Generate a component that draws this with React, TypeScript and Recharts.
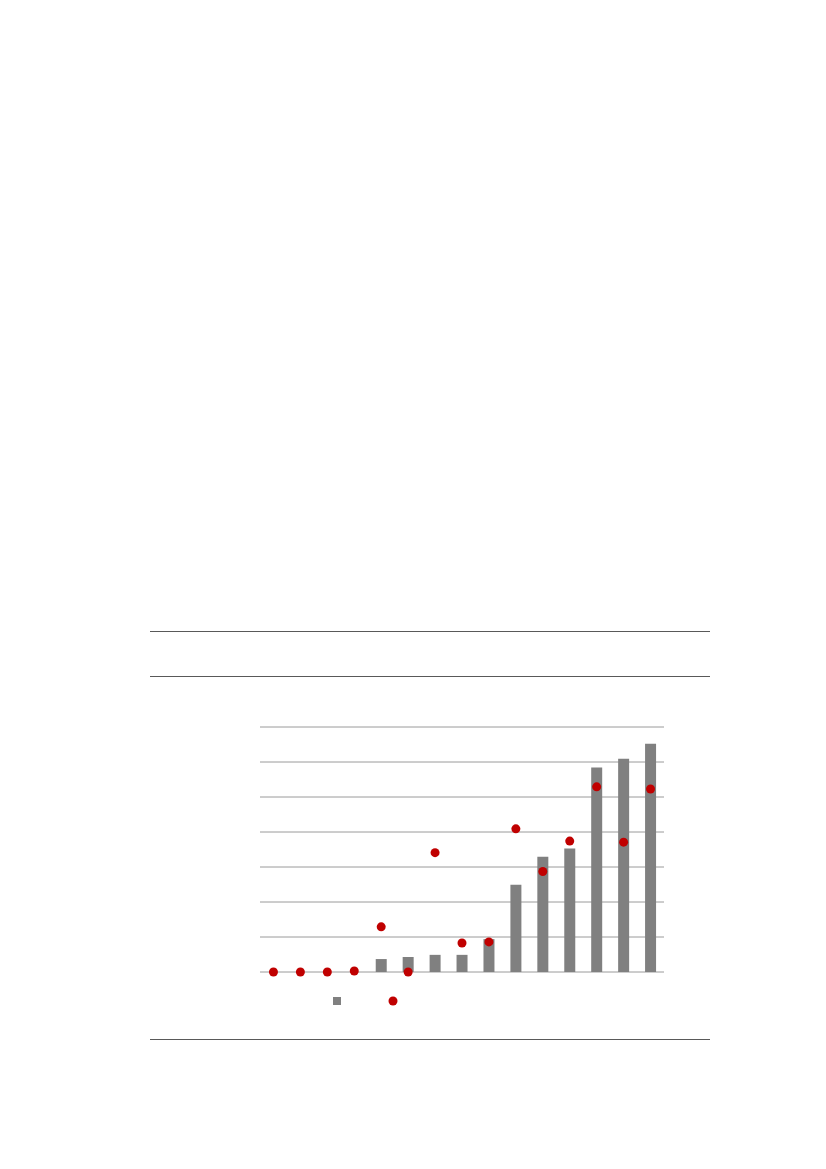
import React from "react";
import {
    ComposedChart,
    Bar,
    Line,
    XAxis,
    YAxis,
    CartesianGrid,
    Legend,
} from "recharts";

// 15 categories, no labels visible in the reference
const categories = ["1", "2", "3", "4", "5", "6", "7", "8", "9", "10", "11", "12", "13", "14", "15"];
const barValues = [0, 0, 0, 0, 0.37, 0.43, 0.49, 0.49, 0.94, 2.49, 3.29, 3.53, 5.84, 6.09, 6.52];
const dotValues = [0, 0, 0, 0.03, 1.29, 0, 3.41, 0.83, 0.86, 4.09, 2.87, 3.74, 5.29, 3.71, 5.23];
const yTicks = [0, 1, 2, 3, 4, 5, 6, 7];

const data = categories.map((c, i) => ({
    name: c,
    bar: barValues[i],
    dot: dotValues[i],
}));

const BAR_COLOR = "#808080";
const DOT_COLOR = "#C00000";

function LegendContent() {
    return (
        <svg width={70} height={10}>
            <rect x={0} y={1} width={8} height={8} fill={BAR_COLOR} />
            <circle cx={60} cy={5} r={4.5} fill={DOT_COLOR} />
        </svg>
    );
}

const rule = (top: number): React.CSSProperties => ({
    position: "absolute",
    left: 150,
    top,
    width: 560,
    height: 0,
    borderTop: "1px solid #595959",
});

export default function App() {
    return (
        <div
            style={{
                position: "absolute",
                left: 0,
                top: 0,
                width: 826,
                height: 1169,
                background: "#fff",
            }}
        >
            <div style={rule(631)} />
            <div style={rule(676)} />
            <div style={rule(1039)} />
            <div style={{ position: "absolute", left: 150, top: 700 }}>
                <ComposedChart
                    width={560}
                    height={330}
                    data={data}
                    margin={{ top: 27, right: 46, left: 110, bottom: 48 }}
                >
                    <CartesianGrid vertical={false} stroke="#9a9a9a" />
                    <XAxis dataKey="name" hide />
                    <YAxis hide domain={[0, 7]} ticks={yTicks} />
                    <Legend
                        content={<LegendContent />}
                        wrapperStyle={{ position: "absolute", left: 183, top: 292, width: 70, height: 10 }}
                    />
                    <Bar dataKey="bar" fill={BAR_COLOR} barSize={11} isAnimationActive={false} />
                    <Line
                        dataKey="dot"
                        stroke="none"
                        dot={{ r: 4.5, fill: DOT_COLOR, stroke: "none" }}
                        activeDot={false}
                        isAnimationActive={false}
                    />
                </ComposedChart>
            </div>
        </div>
    );
}
